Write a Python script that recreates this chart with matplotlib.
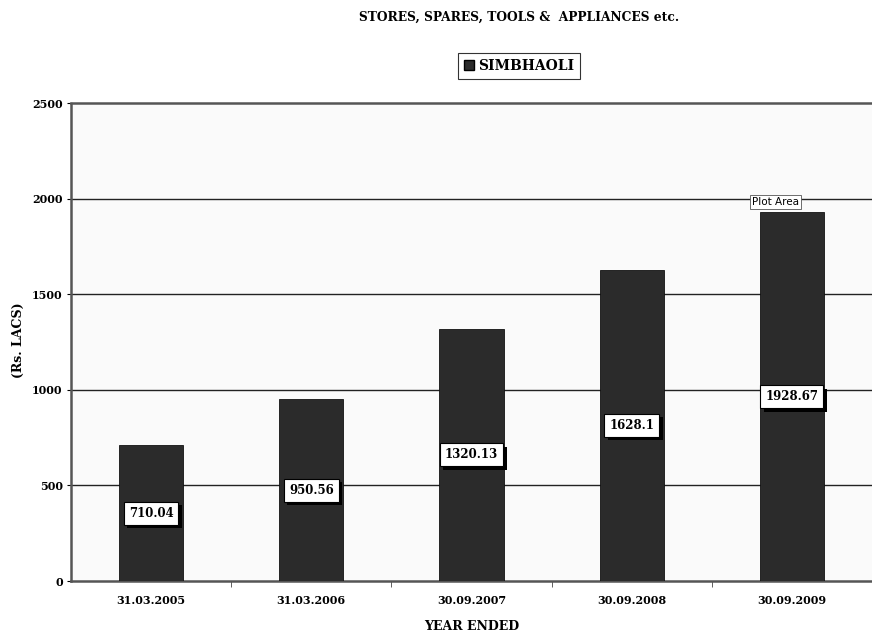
import matplotlib
matplotlib.use("Agg")
import matplotlib.pyplot as plt
from matplotlib.patches import Patch
import matplotlib.patheffects as pe

years = ["31.03.2005", "31.03.2006", "30.09.2007", "30.09.2008", "30.09.2009"]
simbhaoli = [710.04, 950.56, 1320.13, 1628.1, 1928.67]
value_labels = ["710.04", "950.56", "1320.13", "1628.1", "1928.67"]
y_ticks = [0, 500, 1000, 1500, 2000, 2500]

serif = "DejaVu Serif"
bar_color = "#2b2b2b"

fig = plt.figure(figsize=(8.72, 6.37), dpi=100)
ax = fig.add_axes([71 / 872, 1 - 581 / 637, 801 / 872, 478 / 637])
ax.set_facecolor("#fafafa")

x = list(range(len(years)))
ax.bar(x, simbhaoli, width=0.4, color=bar_color, edgecolor="#111111", linewidth=0.6, zorder=3)

ax.set_xlim(-0.5, len(years) - 0.5)
ax.set_ylim(0, 2500)
ax.set_yticks(y_ticks)
ax.set_yticklabels([str(t) for t in y_ticks], fontfamily=serif, fontweight="bold", fontsize=8)
ax.set_xticks(x)
ax.set_xticklabels(years, fontfamily=serif, fontweight="bold", fontsize=8)
ax.set_xticks([i + 0.5 for i in x[:-1]], minor=True)
ax.tick_params(axis="x", which="major", length=0, pad=10)
ax.tick_params(axis="x", which="minor", length=4, color="#444444")
ax.tick_params(axis="y", length=3, pad=3)

for t in y_ticks[1:-1]:
    ax.axhline(t, color="#222222", linewidth=1.0, zorder=1)

for side in ["top", "bottom", "left"]:
    ax.spines[side].set_color("#555555")
    ax.spines[side].set_linestyle((0, (1, 1)))
    ax.spines[side].set_linewidth(1.8)
ax.spines["right"].set_visible(False)

# value boxes at mid height of each bar, with drop shadow
for xi, v, lab in zip(x, simbhaoli, value_labels):
    ax.text(xi, v / 2, lab, ha="center", va="center", fontfamily=serif,
            fontweight="bold", fontsize=8.5, zorder=5,
            bbox=dict(boxstyle="square,pad=0.42", facecolor="white", edgecolor="black", linewidth=0.8,
                      path_effects=[pe.withSimplePatchShadow(offset=(2.5, -2.5), shadow_rgbFace="black", alpha=1.0)]))

# hover tag over the plot area
ax.text(3.75, 2010, "Plot Area", ha="left", va="top", fontsize=7.5, fontfamily="DejaVu Sans",
        zorder=6, bbox=dict(boxstyle="square,pad=0.2", facecolor="white", edgecolor="#555555", linewidth=0.6))

fig.text(519 / 872, 1 - 17 / 637, "STORES, SPARES, TOOLS &  APPLIANCES etc.", ha="center", va="center",
         fontfamily=serif, fontweight="bold", fontsize=8.8)

leg = fig.legend(handles=[Patch(facecolor=bar_color, edgecolor="black", label="SIMBHAOLI")],
                 loc="center", bbox_to_anchor=(519 / 872, 1 - 66 / 637), frameon=True,
                 fancybox=False, edgecolor="black", handlelength=0.7, handleheight=0.7,
                 handletextpad=0.3, borderpad=0.45, prop=dict(family=serif, weight="bold", size=10))
leg.get_frame().set_linewidth(0.8)

fig.text(18 / 872, 1 - 340 / 637, "(Rs. LACS)", rotation=90, ha="center", va="center",
         fontfamily=serif, fontweight="bold", fontsize=9)
fig.text(472 / 872, 1 - 627 / 637, "YEAR ENDED", ha="center", va="center",
         fontfamily=serif, fontweight="bold", fontsize=9)

fig.savefig("out.png", dpi=100, facecolor="white")
